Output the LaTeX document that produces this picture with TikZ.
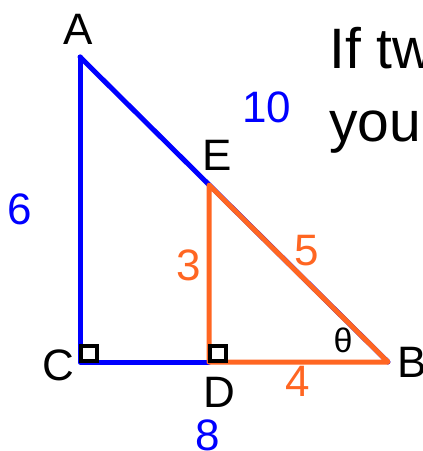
\documentclass[tikz,border=0pt]{standalone}
\usepackage{fontspec}
\setmainfont{Liberation Sans}
\definecolor{myblue}{RGB}{0,0,255}
\definecolor{myorange}{RGB}{255,102,34}
\begin{document}
\begin{tikzpicture}[x=1pt,y=-1pt,
  lbl/.style={inner sep=0pt,font=\fontsize{44}{44}\selectfont},
  bluelbl/.style={lbl,text=myblue},
  orlbl/.style={lbl,text=myorange},
  side/.style={line width=5pt,line cap=round,line join=round},
  rightmark/.style={draw=black,line width=3.8pt}]
\useasboundingbox (0,0) rectangle (423,451);
\clip (0,0) rectangle (423,451);
\fill[white] (0,0) rectangle (423,451);
% vertices
\coordinate (A) at (80,57);
\coordinate (C) at (80,362);
\coordinate (D) at (209,362);
\coordinate (B) at (388,362);
\coordinate (E) at (209,185);
% big triangle
\draw[side,myblue] (A) -- (C) -- (D);
\draw[side,myblue] (A) -- (B);
% small triangle
\draw[side,myorange] (E) -- (D) -- (B) -- cycle;
% right angle marks
\draw[rightmark] (81,361) rectangle (97,346);
\draw[rightmark] (210,361) rectangle (226,346);
% vertex labels
\node[lbl] (lA) at (78,29) {A};
\node[lbl] (lE) at (217,155) {E};
\node[lbl] (lC) at (58,365) {C};
\node[lbl] (lD) at (219,392) {D};
\node[lbl] (lB) at (412,362) {B};
\node[inner sep=0pt,font=\fontsize{34}{34}\selectfont] (th) at (343,340) {θ};
% side labels
\node[bluelbl] (l10) at (267,107) {10};
\node[bluelbl] (l6) at (20,209) {6};
\node[bluelbl] (l8) at (208,435) {8};
\node[orlbl] (l3) at (189,265) {3};
\node[orlbl] (l5) at (307,251) {5};
\node[orlbl] (l4) at (298,381) {4};
% text
\node[anchor=base west,inner sep=0pt,font=\fontsize{57}{57}\selectfont] (t1) at (329,68) {If two};
\node[anchor=base west,inner sep=0pt,font=\fontsize{57}{57}\selectfont] (t2) at (329,141) {you};
\end{tikzpicture}
\end{document}
